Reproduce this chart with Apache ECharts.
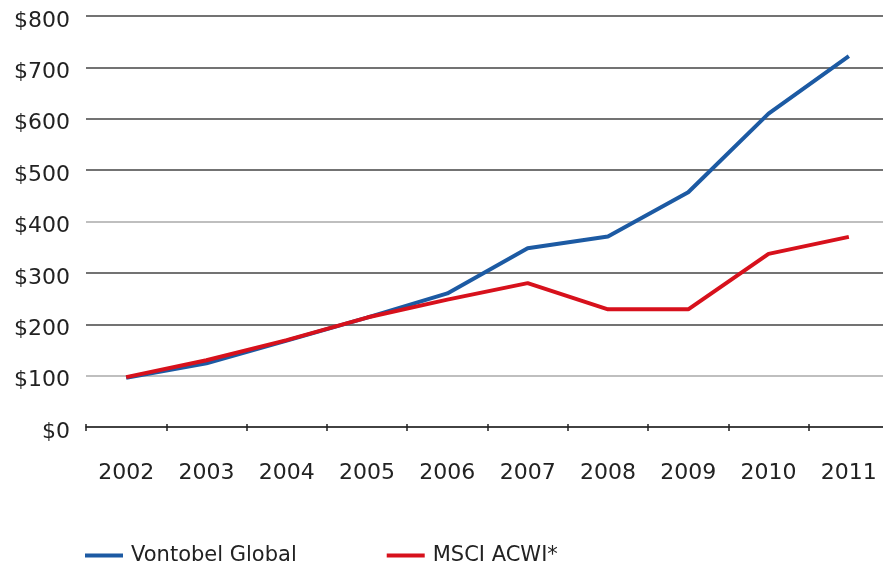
<!DOCTYPE html>
<html>
<head>
<meta charset="utf-8">
<script src="https://cdn.jsdelivr.net/npm/echarts@6/dist/echarts.min.js"></script>
<style>
  html, body { margin: 0; padding: 0; background: #fff; }
  #chart { width: 883px; height: 567px; }
</style>
</head>
<body>
<div id="chart"></div>
<script>
const years = ['2002', '2003', '2004', '2005', '2006', '2007', '2008', '2009', '2010', '2011']
const vontobel = [96, 124, 168, 213, 260, 348, 371, 457, 610, 722]
const msci = [97, 130, 169, 213, 248, 280, 229, 229, 337, 370]

const font = 'DejaVu Sans'
const txt = { color: '#222', fontFamily: font, fontSize: 22 }

const chart = echarts.init(document.getElementById('chart'))
chart.setOption({
  animation: false,
  grid: { left: 86, width: 803, top: 16, bottom: 140, outerBoundsMode: 'none' },
  legend: {
    left: 85, top: 545, padding: 0, itemGap: 90, itemWidth: 38, itemHeight: 4, icon: 'rect',
    textStyle: { ...txt, fontSize: 21, padding: [0, 0, 0, 3] },
    data: ['Vontobel Global', 'MSCI ACWI*']
  },
  xAxis: [
    {
      type: 'category', data: years, boundaryGap: true,
      axisLine: { lineStyle: { color: '#333', width: 1.5 } },
      axisTick: { show: true, interval: 0, length: 4, lineStyle: { color: '#222', width: 1.5 } },
      axisLabel: { ...txt, margin: 35 }
    },
    {
      type: 'category', data: years, boundaryGap: true, position: 'bottom',
      axisLine: { show: false },
      axisTick: { show: true, interval: 0, inside: true, length: 3, lineStyle: { color: '#222', width: 1.5 } },
      axisLabel: { show: false }
    }
  ],
  yAxis: {
    type: 'value', min: 0, max: 800, interval: 100,
    axisLine: { show: false }, axisTick: { show: false },
    axisLabel: { ...txt, margin: 16, verticalAlign: 'top', lineHeight: 10, formatter: v => '$' + v },
    splitLine: { lineStyle: { width: 1.5, color: ['#444', '#aaa', '#444', '#444', '#aaa', '#444', '#444', '#444', '#444'] } }
  },
  series: [
    { name: 'Vontobel Global', type: 'line', data: vontobel, showSymbol: false, color: '#1c5aa3', lineStyle: { width: 4 } },
    { name: 'MSCI ACWI*', type: 'line', data: msci, showSymbol: false, color: '#d7111c', lineStyle: { width: 4 } }
  ]
})
</script>
</body>
</html>
